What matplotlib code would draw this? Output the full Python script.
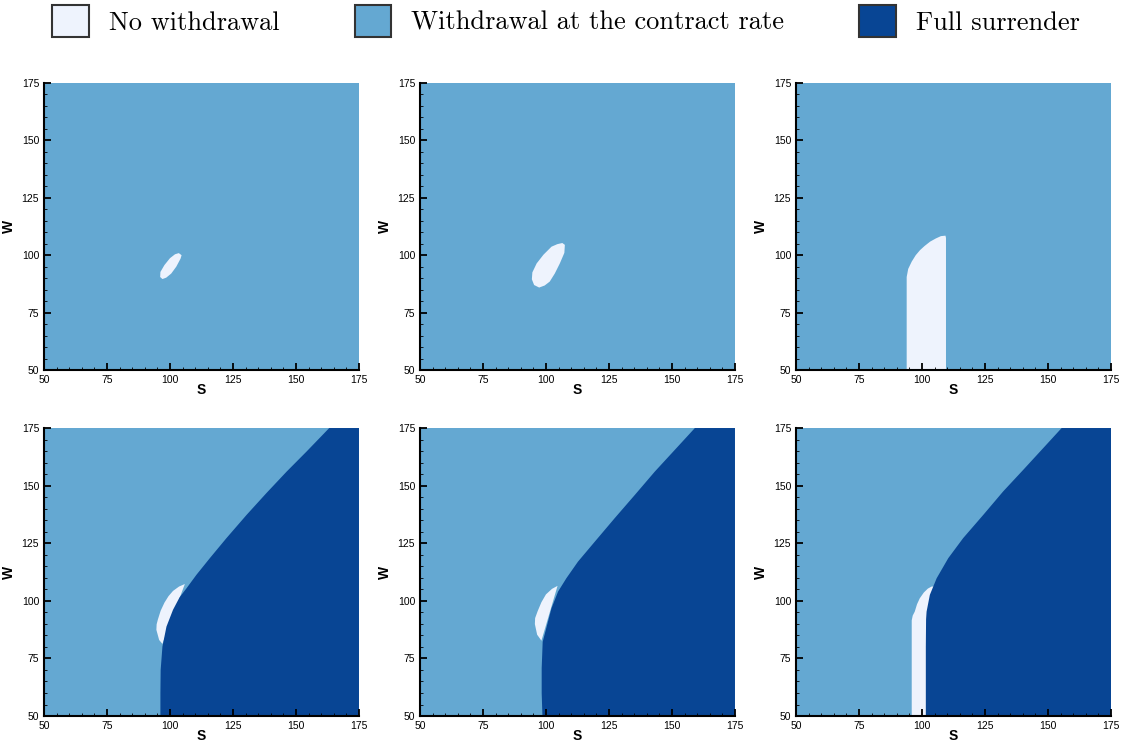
import matplotlib
matplotlib.use("Agg")
from matplotlib import pyplot as plt
from matplotlib.patches import Patch
from matplotlib.ticker import MultipleLocator

# colours of the three strategies
c_none = "#eef3fd"
c_rate = "#64a8d2"
c_surr = "#084594"
labels = ["No withdrawal", "Withdrawal at the contract rate", "Full surrender"]

s_min, s_max = 50, 175
w_min, w_max = 50, 175

# "no withdrawal" regions, (S, W) outline points
p1_none_s = [97.0, 98.5, 100.5, 102.5, 104.2, 104.6, 103.5, 102.0, 100.0, 97.8, 96.2, 96.1]
p1_none_w = [89.6, 90.2, 92.0, 95.0, 98.5, 100.0, 100.9, 100.4, 98.7, 95.7, 92.7, 90.5]

p2_none_s = [97.3, 99.5, 101.5, 103.5, 105.5, 107.3, 107.5, 106.5, 104.5, 102.2, 99.0, 96.3, 94.6, 94.4, 95.3]
p2_none_w = [85.9, 86.8, 88.5, 92.0, 96.4, 101.0, 104.5, 105.3, 104.8, 103.7, 100.2, 96.4, 92.5, 89.5, 87.0]

p3_none_s = [93.9, 93.9, 94.5, 95.9, 97.5, 99.2, 101.0, 103.2, 105.5, 107.5, 109.3, 109.5, 109.5]
p3_none_w = [50.0, 90.5, 94.0, 97.2, 100.0, 102.2, 104.0, 105.9, 107.3, 108.3, 108.5, 107.5, 50.0]

p4_none_s = [97.0, 95.7, 94.6, 94.7, 95.2, 96.3, 97.8, 99.4, 101.2, 103.6, 105.9]
p4_none_w = [81.3, 83.0, 87.4, 89.8, 91.9, 95.7, 99.2, 102.0, 104.3, 106.2, 107.3]

p5_none_s = [98.2, 96.5, 95.6, 95.7, 96.7, 98.2, 100.0, 102.4, 104.6]
p5_none_w = [82.7, 85.3, 89.9, 92.5, 95.5, 99.4, 102.8, 105.2, 106.5]

p6_none_s = [95.9, 95.9, 96.3, 97.1, 98.0, 99.1, 100.7, 102.3, 103.8, 105.0, 105.0]
p6_none_w = [50.0, 91.5, 93.6, 95.3, 98.5, 101.1, 103.6, 105.3, 106.2, 106.2, 50.0]

# "full surrender" boundary, from the bottom edge to the top edge
p4_surr_s = [96.2, 96.2, 96.3, 97.0, 98.6, 101.2, 103.8, 106.6, 110.5, 115.8, 122.4, 130.4, 138.3, 146.3, 154.2, 163.2]
p4_surr_w = [50.0, 59.9, 70.0, 80.1, 88.8, 96.1, 101.5, 105.5, 111.3, 118.5, 127.2, 137.3, 146.8, 156.1, 164.8, 175.0]

p5_surr_s = [98.6, 98.3, 98.3, 98.7, 100.8, 102.2, 104.8, 108.1, 112.7, 119.4, 127.3, 135.3, 143.2, 151.2, 159.1]
p5_surr_w = [50.0, 60.0, 70.7, 82.2, 91.0, 96.8, 104.0, 109.8, 117.0, 125.7, 135.9, 146.0, 156.1, 165.6, 175.0]

p6_surr_s = [101.5, 101.5, 101.6, 101.8, 103.1, 105.8, 110.4, 116.3, 124.3, 132.2, 140.2, 148.1, 155.4]
p6_surr_w = [50.0, 80.0, 92.0, 95.3, 102.6, 109.8, 118.5, 127.2, 137.3, 147.5, 156.9, 166.3, 175.0]

panels = [
    (p1_none_s, p1_none_w, None, None),
    (p2_none_s, p2_none_w, None, None),
    (p3_none_s, p3_none_w, None, None),
    (p4_none_s, p4_none_w, p4_surr_s, p4_surr_w),
    (p5_none_s, p5_none_w, p5_surr_s, p5_surr_w),
    (p6_none_s, p6_none_w, p6_surr_s, p6_surr_w),
]

fig = plt.figure(figsize=(11.25, 7.44), dpi=100)

lefts = [0.0391, 0.3733, 0.7076]
bottoms = [0.5027, 0.0376]
heights = [0.3858, 0.3871]

for i, (ns, nw, ss, sw) in enumerate(panels):
    row, col = i // 3, i % 3
    ax = fig.add_axes([lefts[col], bottoms[row], 0.28, heights[row]])
    ax.fill_between([s_min, s_max], w_min, w_max, color=c_rate, lw=0)
    ax.fill(ns, nw, color=c_none, lw=0)
    if ss is not None:
        ax.fill(ss + [s_max, s_max], sw + [w_max, w_min], color=c_surr, lw=0)
    ax.set_xlim(s_min, s_max)
    ax.set_ylim(w_min, w_max)
    ax.xaxis.set_major_locator(MultipleLocator(25))
    ax.yaxis.set_major_locator(MultipleLocator(25))
    ax.xaxis.set_minor_locator(MultipleLocator(5))
    ax.yaxis.set_minor_locator(MultipleLocator(5))
    ax.tick_params(which="both", direction="in", top=False, right=False,
                   labelsize=7.5, labelfontfamily="Liberation Sans")
    ax.tick_params(which="major", length=5, width=1.3, pad=3.5)
    ax.tick_params(which="minor", length=2.5, width=0.6)
    ax.spines["top"].set_visible(False)
    ax.spines["right"].set_visible(False)
    ax.spines["left"].set_linewidth(1.5)
    ax.spines["bottom"].set_linewidth(1.5)
    ax.set_xlabel("S", fontsize=10, fontweight="bold", family="Liberation Sans", labelpad=-1)
    ax.set_ylabel("W", fontsize=10, fontweight="bold", family="Liberation Sans", labelpad=4)

handles = [Patch(facecolor=c, edgecolor="#333333", linewidth=1.5) for c in [c_none, c_rate, c_surr]]
fig.legend(handles, labels, loc="center", bbox_to_anchor=(566 / 1125, 1 - 21 / 744),
           ncol=3, frameon=False, prop={"family": "cmr10", "size": 19},
           handlelength=1.4, handleheight=1.5, handletextpad=0.75, columnspacing=2.83)

fig.savefig("out.png", dpi=100)
